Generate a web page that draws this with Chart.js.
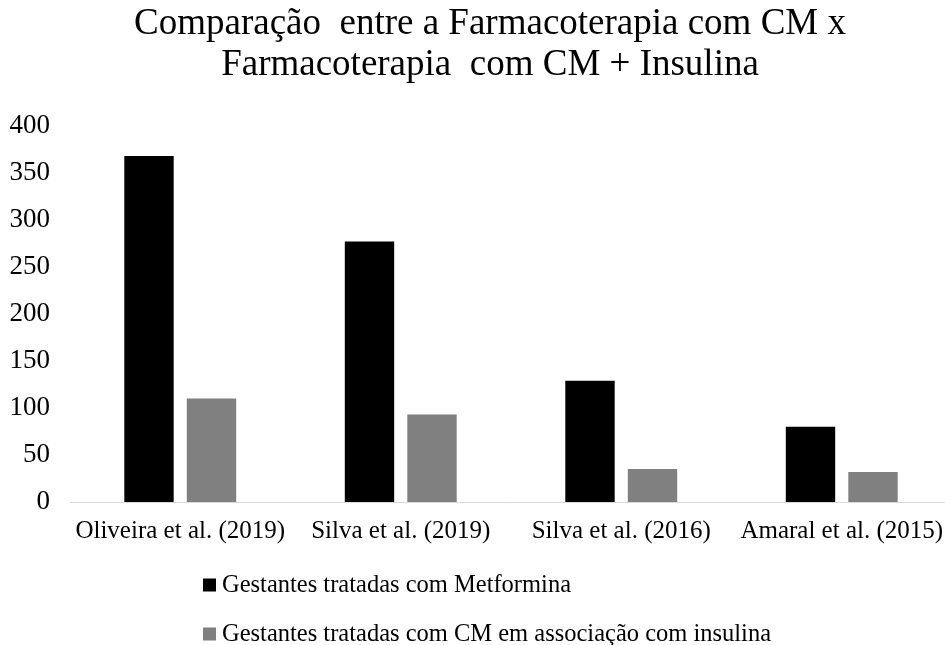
<!DOCTYPE html>
<html>
<head>
<meta charset="utf-8">
<script src="https://cdn.jsdelivr.net/npm/chart.js@4/dist/chart.umd.min.js"></script>
<style>
html,body{margin:0;padding:0;background:#fff;overflow:hidden;}
#wrap{width:945px;height:645px;position:relative;overflow:hidden;}
</style>
</head>
<body>
<div id="wrap"><canvas id="c" width="952" height="645"></canvas></div>
<script>
const categories = ["Oliveira et al. (2019)", "Silva et al. (2019)", "Silva et al. (2016)", "Amaral et al. (2015)"];
const metforminaValues = [368, 277, 129, 80];
const insulinaValues = [110, 93, 35, 32];
const seriesLabels = ["Gestantes tratadas com Metformina", "Gestantes tratadas com CM em associação com insulina"];
const titleLines = ["Comparação  entre a Farmacoterapia com CM x", "Farmacoterapia  com CM + Insulina"];
const yTicks = [0, 50, 100, 150, 200, 250, 300, 350, 400];

const SERIF = "'Liberation Serif', 'Times New Roman', serif";

const legendPlugin = {
  id: 'customLegend',
  afterLayout(chart) {
    if (chart.titleBlock) { chart.titleBlock.left += 28; }
  },
  afterDraw(chart) {
    const ctx = chart.ctx;
    ctx.save();
    const rows = [585, 634];
    chart.data.datasets.forEach((ds, i) => {
      const y = rows[i];
      ctx.fillStyle = ds.backgroundColor;
      ctx.fillRect(203, y - 6.5, 13, 13);
      ctx.fillStyle = '#000';
      ctx.font = "24.5px " + SERIF;
      ctx.textBaseline = 'middle';
      ctx.textAlign = 'left';
      ctx.fillText(ds.label, 222, y + 1);
    });
    ctx.restore();
  }
};

new Chart(document.getElementById('c'), {
  type: 'bar',
  data: {
    labels: categories,
    datasets: [
      { label: seriesLabels[0], data: metforminaValues, backgroundColor: '#000000' },
      { label: seriesLabels[1], data: insulinaValues, backgroundColor: '#808080' }
    ]
  },
  options: {
    responsive: false,
    animation: false,
    devicePixelRatio: 1,
    categoryPercentage: 0.567,
    barPercentage: 0.79,
    layout: { padding: { left: 0, right: 0, top: 0, bottom: 83 } },
    plugins: {
      legend: { display: false },
      tooltip: { enabled: false },
      title: {
        display: true,
        text: titleLines,
        color: '#000',
        font: { family: SERIF, size: 37, weight: 'normal', lineHeight: 41 / 37 },
        padding: { top: 4, bottom: 40 }
      }
    },
    scales: {
      x: {
        grid: { display: false, drawTicks: false },
        border: { display: true, color: '#d9d9d9', width: 1 },
        ticks: {
          color: '#000',
          font: { family: SERIF, size: 25 },
          padding: 14,
          autoSkip: false,
          maxRotation: 0,
          minRotation: 0
        },
        afterFit(scale) { scale.height = 60; scale.paddingRight = 0; scale.paddingLeft = 0; }
      },
      y: {
        min: 0,
        max: 400,
        afterBuildTicks(scale) { scale.ticks = yTicks.map(v => ({ value: v })); },
        grid: { display: false, drawTicks: false },
        border: { display: false },
        ticks: {
          color: '#000',
          font: { family: SERIF, size: 27 },
          padding: 20
        },
        afterFit(scale) { scale.width = 70; }
      }
    }
  },
  plugins: [legendPlugin]
});
</script>
</body>
</html>
